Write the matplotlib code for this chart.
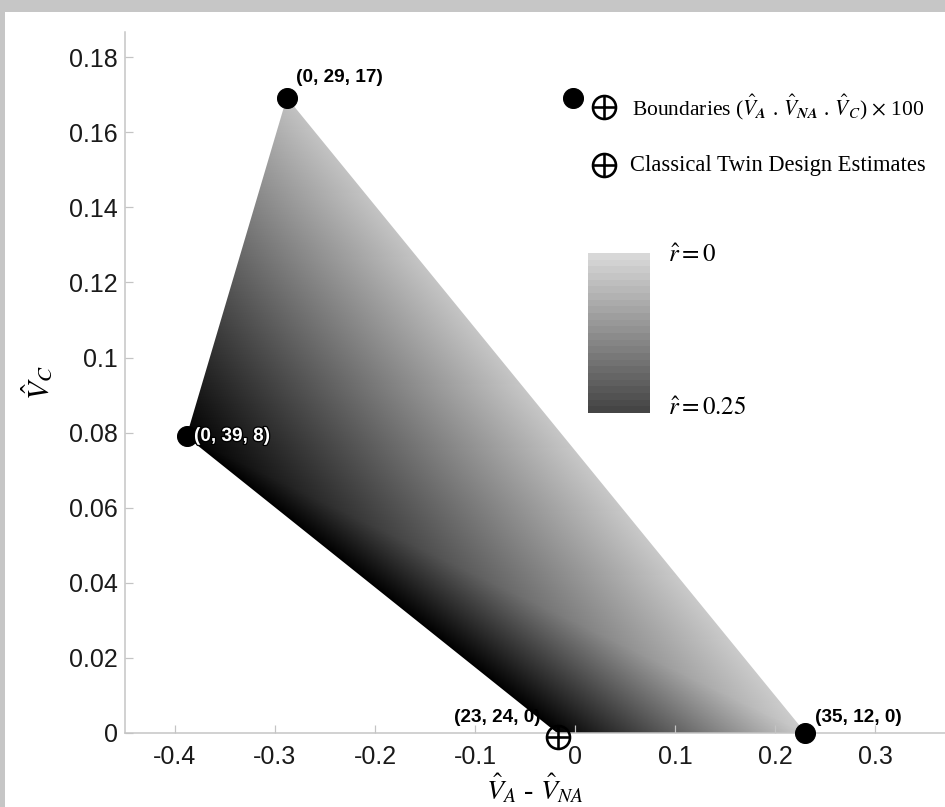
import numpy as np
import matplotlib
matplotlib.use('Agg')
import matplotlib.pyplot as plt
import matplotlib.patheffects as pe
from matplotlib.patches import Rectangle
from matplotlib.colors import LinearSegmentedColormap, Normalize
from matplotlib.cm import ScalarMappable
import matplotlib.tri as mtri

plt.rcParams['mathtext.fontset'] = 'stix'

# boundary points (V_A - V_NA, V_C) and their labels (V_A, V_NA, V_C) x 100
bx = [-0.288, -0.388, -0.017, 0.23]
by = [0.169, 0.079, 0.0, 0.0]
blabels = ['(0, 29, 17)', '(0, 39, 8)', '(23, 24, 0)', '(35, 12, 0)']
# grey level at each corner of the region (0 black, 1 white)
shade = [0.76, 0.0, 0.0, 0.80]
# classical twin design estimate
cx = [-0.017]
cy = [0.0]

xticks = [-0.4, -0.3, -0.2, -0.1, 0, 0.1, 0.2, 0.3]
yticks = [0, 0.02, 0.04, 0.06, 0.08, 0.1, 0.12, 0.14, 0.16, 0.18]

W, H = 945, 807
fig = plt.figure(figsize=(W / 72, H / 72), dpi=72)
fig.patch.set_facecolor('#c6c6c6')
fig.add_artist(Rectangle((5 / W, 0), 1 - 5 / W, 1 - 12 / H, transform=fig.transFigure,
                         facecolor='white', edgecolor='none', zorder=-10))

ax = fig.add_axes([125 / W, 74 / H, 820 / W, 701 / H])
ax.set_facecolor('none')

tri = mtri.Triangulation(bx, by, triangles=[[1, 2, 3], [1, 3, 0]])
ax.tripcolor(tri, shade, shading='gouraud', cmap='gray', vmin=0, vmax=1, zorder=1)

# dots on the boundary corners that are not classical estimates
dot_x = [bx[i] for i in (0, 1, 3)]
dot_y = [by[i] for i in (0, 1, 3)]
ax.plot(dot_x, dot_y, 'o', color='black', markersize=20, clip_on=False, zorder=4)


def crossed(axis, x, y, **kw):
    axis.plot(x, y, 'o', mfc='none', mec='black', markersize=23, mew=2.6, clip_on=False, zorder=5, **kw)
    axis.plot(x, y, '+', color='black', markersize=23, mew=2.6, clip_on=False, zorder=5, **kw)


crossed(ax, cx, [v - 0.001 for v in cy])

offs = [(9, 21, 'left'), (7, 0, 'left'), (-17, 16, 'right'), (10, 16, 'left')]
for i, lab in enumerate(blabels):
    dx, dy, ha = offs[i]
    t = ax.annotate(lab, (bx[i], by[i]), xytext=(dx, dy), textcoords='offset points',
                    ha=ha, va='center', fontsize=19, fontweight='bold',
                    family='Liberation Sans', zorder=6, annotation_clip=False)
    if i == 1:
        t.set_color('white')
        t.set_path_effects([pe.withStroke(linewidth=2.5, foreground='black')])

ax.set_xlim(-0.45, 0.37)
ax.set_ylim(0, 0.1867)
ax.set_xticks(xticks)
ax.set_yticks(yticks)
ax.set_xticklabels(['%g' % v for v in xticks])
ax.set_yticklabels(['%g' % v for v in yticks])
for s in ['top', 'right']:
    ax.spines[s].set_visible(False)
for s in ['left', 'bottom']:
    ax.spines[s].set_color('#c4c4c4')
    ax.spines[s].set_linewidth(1.5)
    ax.spines[s].set_zorder(2)
ax.tick_params(direction='in', length=8, width=1.2, color='#c4c4c4',
               labelsize=25, labelcolor='#1a1a1a')
ax.tick_params(axis='x', pad=12)
ax.tick_params(axis='y', pad=7)
for lab in ax.get_xticklabels() + ax.get_yticklabels():
    lab.set_family('Liberation Sans')

ax.set_xlabel(r'$\hat{V}_A$ - $\hat{V}_{NA}$', fontsize=28, family='Liberation Serif')
ax.set_ylabel(r'$\hat{V}_C$', fontsize=30, family='Liberation Serif')
ax.xaxis.set_label_coords(0.5, -0.056)
ax.yaxis.set_label_coords(-0.086, 0.5)


def fpt(px, py):
    return px / W, 1 - py / H


# legend drawn by hand
lx, ly = fpt(573, 98)
ax.plot([lx], [ly], 'o', color='black', markersize=20, transform=fig.transFigure, clip_on=False)
for py in (107, 165):
    px_, py_ = fpt(604, py)
    crossed(ax, [px_], [py_], transform=fig.transFigure)
fig.text(*fpt(632, 107), r'Boundaries ($\hat{V}_{\mathbfit{A}}$ . $\hat{V}_{\mathbfit{NA}}$ . $\hat{V}_C$) $\times$ 100',
         ha='left', va='center', fontsize=21.5, family='Liberation Serif')
fig.text(*fpt(630, 166), 'Classical Twin Design Estimates',
         ha='left', va='center', fontsize=22.5, family='Liberation Serif')

# colour key
cax = fig.add_axes([588 / W, 1 - 413 / H, 62 / W, 160 / H])
key_cmap = LinearSegmentedColormap.from_list('key', ['#d8d8d8', '#454545'], N=24)
cb = fig.colorbar(ScalarMappable(norm=Normalize(0, 0.25), cmap=key_cmap), cax=cax)
cb.outline.set_visible(False)
cb.set_ticks([])
cax.invert_yaxis()
fig.text(*fpt(668, 255), r'$\hat{r} = 0$', ha='left', va='center', fontsize=25)
fig.text(*fpt(668, 408), r'$\hat{r} = 0.25$', ha='left', va='center', fontsize=25)

fig.savefig('out.png', dpi=72, facecolor=fig.get_facecolor())
